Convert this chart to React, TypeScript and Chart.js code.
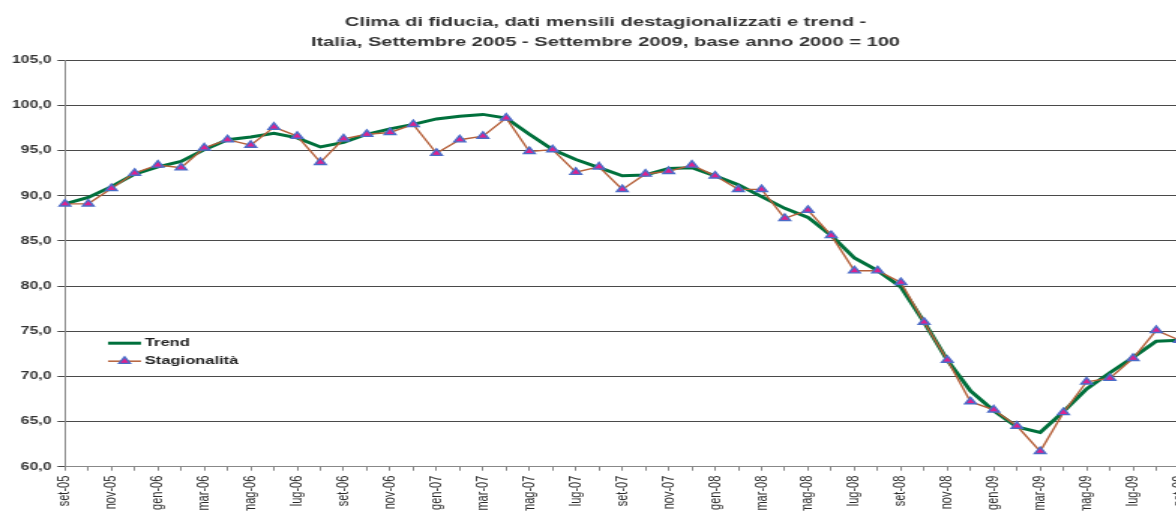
import React, { useEffect, useRef } from 'react';
import { Chart, registerables } from 'chart.js';

Chart.register(...registerables);

const titleLines = [
  'Clima di fiducia, dati mensili destagionalizzati e trend -',
  'Italia, Settembre 2005 - Settembre 2009, base anno 2000 = 100',
];

const months = [
  'set-05', 'ott-05', 'nov-05', 'dic-05',
  'gen-06', 'feb-06', 'mar-06', 'apr-06', 'mag-06', 'giu-06', 'lug-06', 'ago-06', 'set-06', 'ott-06', 'nov-06', 'dic-06',
  'gen-07', 'feb-07', 'mar-07', 'apr-07', 'mag-07', 'giu-07', 'lug-07', 'ago-07', 'set-07', 'ott-07', 'nov-07', 'dic-07',
  'gen-08', 'feb-08', 'mar-08', 'apr-08', 'mag-08', 'giu-08', 'lug-08', 'ago-08', 'set-08', 'ott-08', 'nov-08', 'dic-08',
  'gen-09', 'feb-09', 'mar-09', 'apr-09', 'mag-09', 'giu-09', 'lug-09', 'ago-09', 'set-09',
];

const trend = [
  89.1, 89.8, 91.0, 92.4,
  93.2, 93.8, 95.1, 96.2, 96.5, 96.9, 96.4, 95.4, 95.9, 96.8, 97.4, 97.9,
  98.5, 98.8, 99.0, 98.6, 96.8, 95.1, 94.0, 93.1, 92.2, 92.3, 93.0, 93.1,
  92.2, 91.2, 89.9, 88.6, 87.6, 85.6, 83.1, 81.7, 79.9, 76.0, 71.8, 68.4,
  66.2, 64.4, 63.8, 66.1, 68.6, 70.4, 72.1, 73.9, 74.0,
];

const stagionalita = [
  89.1, 89.1, 90.8, 92.5,
  93.4, 93.1, 95.3, 96.2, 95.6, 97.6, 96.6, 93.7, 96.3, 96.8, 97.0, 97.9,
  94.7, 96.2, 96.6, 98.6, 94.9, 95.1, 92.6, 93.2, 90.7, 92.4, 92.7, 93.4,
  92.2, 90.7, 90.7, 87.5, 88.4, 85.6, 81.7, 81.7, 80.4, 76.0, 71.8, 67.2,
  66.3, 64.5, 61.7, 66.0, 69.4, 69.8, 72.0, 75.1, 74.0,
];

const seriesNames = ['Trend', 'Stagionalità'];

const yMin = 60;
const yMax = 105;
const yStep = 5;

const FONT = '"Liberation Sans", Arial, Helvetica, sans-serif';
const STRETCH = 1.5;
const W = 807;
const H = 530;

const GREEN = '#00703c';
const BROWN = '#b5603a';
const TRI_FILL = '#e0208c';
const TRI_BORDER = '#4b6cc8';

const insideLegend = {
  id: 'insideLegend',
  afterDraw(chart: any) {
    const { ctx, chartArea } = chart;
    const x0 = chartArea.left + 28.7;
    const len = 22;
    const rows = [chartArea.top + 283, chartArea.top + 301];
    ctx.save();
    ctx.strokeStyle = GREEN;
    ctx.lineWidth = 3;
    ctx.beginPath();
    ctx.moveTo(x0, rows[0]);
    ctx.lineTo(x0 + len, rows[0]);
    ctx.stroke();
    ctx.strokeStyle = BROWN;
    ctx.lineWidth = 1.5;
    ctx.beginPath();
    ctx.moveTo(x0, rows[1]);
    ctx.lineTo(x0 + len, rows[1]);
    ctx.stroke();
    const r = 4.3;
    const cx = x0 + len / 2;
    const cy = rows[1];
    ctx.beginPath();
    ctx.moveTo(cx, cy - r);
    ctx.lineTo(cx + r * Math.sin((2 * Math.PI) / 3), cy - r * Math.cos((2 * Math.PI) / 3));
    ctx.lineTo(cx + r * Math.sin((4 * Math.PI) / 3), cy - r * Math.cos((4 * Math.PI) / 3));
    ctx.closePath();
    ctx.fillStyle = TRI_FILL;
    ctx.fill();
    ctx.strokeStyle = TRI_BORDER;
    ctx.lineWidth = 1.4;
    ctx.stroke();
    ctx.fillStyle = '#222';
    ctx.font = `bold 11px ${FONT}`;
    ctx.textBaseline = 'middle';
    ctx.textAlign = 'left';
    ctx.fillText(seriesNames[0], x0 + len + 2.5, rows[0]);
    ctx.fillText(seriesNames[1], x0 + len + 2.5, rows[1]);
    ctx.restore();
  },
};

export default function App() {
  const ref = useRef<HTMLCanvasElement>(null);

  useEffect(() => {
    document.body.style.margin = '0';
    document.body.style.overflow = 'hidden';
    const chart = new Chart(ref.current!, {
      type: 'line',
      data: {
        labels: months,
        datasets: [
          {
            label: seriesNames[0],
            data: trend,
            borderColor: GREEN,
            backgroundColor: GREEN,
            borderWidth: 3,
            pointRadius: 0,
            tension: 0,
            order: 1,
          },
          {
            label: seriesNames[1],
            data: stagionalita,
            borderColor: BROWN,
            backgroundColor: TRI_FILL,
            borderWidth: 1.4,
            pointStyle: 'triangle',
            pointRadius: 4.3,
            pointBackgroundColor: TRI_FILL,
            pointBorderColor: TRI_BORDER,
            pointBorderWidth: 1.4,
            tension: 0,
            order: 0,
          },
        ],
      },
      options: {
        responsive: false,
        devicePixelRatio: 1,
        animation: false,
        layout: { padding: { left: 0, right: 0, top: 0, bottom: 12 } },
        plugins: {
          legend: { display: false },
          tooltip: { enabled: false },
          title: {
            display: true,
            text: titleLines,
            color: '#333',
            font: { family: FONT, size: 13.4, weight: 'bold', lineHeight: 1.5 },
            padding: { top: 12, bottom: 8 },
          },
        },
        scales: {
          x: {
            offset: false,
            afterFit: (scale: any) => {
              scale.paddingRight = 21;
            },
            grid: {
              display: true,
              drawOnChartArea: false,
              drawTicks: true,
              tickLength: 4,
              color: '#888',
            },
            border: { display: true, color: '#888', width: 1 },
            ticks: {
              autoSkip: false,
              maxRotation: 90,
              minRotation: 90,
              padding: 5,
              color: '#2a2a2a',
              font: { family: FONT, size: 11 },
              callback: (_v: any, i: number) => (i % 2 === 0 ? months[i] : ''),
            },
          },
          y: {
            min: yMin,
            max: yMax,
            afterFit: (scale: any) => {
              scale.width = 43.3;
            },
            grid: { color: '#4a4a4a', lineWidth: 1, tickLength: 5 },
            border: { display: true, color: '#888', width: 1 },
            ticks: {
              stepSize: yStep,
              padding: 4,
              color: '#333',
              font: { family: FONT, size: 10.5, weight: 'bold' },
              callback: (v: any) => Number(v).toFixed(1).replace('.', ','),
            },
          },
        },
      },
      plugins: [insideLegend],
    });
    return () => chart.destroy();
  }, []);

  return (
    <div style={{ position: 'fixed', left: 0, top: 0, width: '1176px', height: '511px', overflow: 'hidden', background: '#fff' }}>
      <canvas
        ref={ref}
        width={W}
        height={H}
        style={{ width: `${W * STRETCH}px`, height: `${H}px`, display: 'block' }}
      />
    </div>
  );
}
